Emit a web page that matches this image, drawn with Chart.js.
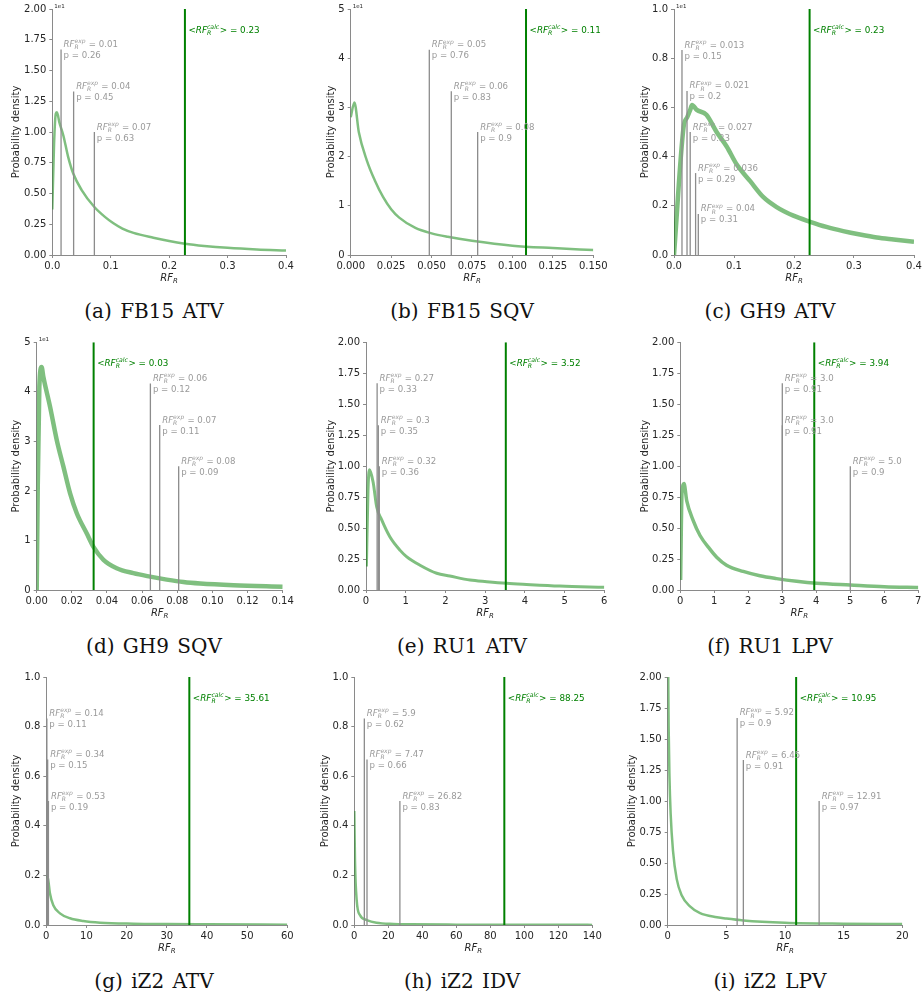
<!DOCTYPE html>
<html>
<head>
<meta charset="utf-8">
<script src="https://cdn.jsdelivr.net/npm/chart.js@4.4.0/dist/chart.umd.min.js"></script>
<style>
  body { margin: 0; background: #fff; width: 924px; height: 1004px; position: relative; overflow: hidden; }
  canvas { position: absolute; }
  .cap { position: absolute; width: 308px; text-align: center; font: 20px "DejaVu Serif"; line-height: 20px; color: #111; word-spacing: 2px; }
</style>
</head>
<body>
<script>
// --- DATA ---
// tick labels
const yTicks2 = ['0.00', '0.25', '0.50', '0.75', '1.00', '1.25', '1.50', '1.75', '2.00'];
const yTicks5 = ['0', '1', '2', '3', '4', '5'];
const yTicks1 = ['0.0', '0.2', '0.4', '0.6', '0.8', '1.0'];
const xTicksA = ['0.0', '0.1', '0.2', '0.3', '0.4'];
const xTicksB = ['0.000', '0.025', '0.050', '0.075', '0.100', '0.125', '0.150'];
const xTicksD = ['0.00', '0.02', '0.04', '0.06', '0.08', '0.10', '0.12', '0.14'];
const xTicksE = ['0', '1', '2', '3', '4', '5', '6'];
const xTicksF = ['0', '1', '2', '3', '4', '5', '6', '7'];
const xTicksG = ['0', '10', '20', '30', '40', '50', '60'];
const xTicksH = ['0', '20', '40', '60', '80', '100', '120', '140'];
const xTicksI = ['0', '5', '10', '15', '20'];

// (a) FB15 ATV
const fb15AtvX = [0, 0.003, 0.006, 0.008, 0.012, 0.019, 0.027, 0.036, 0.05, 0.072, 0.09, 0.104, 0.12, 0.139, 0.173, 0.2, 0.227, 0.26, 0.3, 0.35, 0.4];
const fb15AtvY = [0.37, 0.9, 1.15, 1.16, 1.08, 0.97, 0.8, 0.66, 0.53, 0.39, 0.31, 0.26, 0.215, 0.18, 0.14, 0.113, 0.092, 0.074, 0.058, 0.045, 0.037];
const fb15AtvExp = [0.015, 0.0365, 0.072];
const fb15AtvExpH = [1.67, 1.33, 1.0];
const fb15AtvExpLabel = ['0.01', '0.04', '0.07'];
const fb15AtvP = ['0.26', '0.45', '0.63'];
const fb15AtvCalc = 0.227;

// (b) FB15 SQV
const fb15SqvX = [0, 0.0023, 0.005, 0.01, 0.015, 0.02, 0.025, 0.03, 0.04, 0.05, 0.06, 0.075, 0.1, 0.125, 0.15];
const fb15SqvY = [2.8, 3.1, 2.5, 1.92, 1.51, 1.18, 0.93, 0.76, 0.55, 0.44, 0.37, 0.29, 0.19, 0.14, 0.1];
const fb15SqvExp = [0.0486, 0.0622, 0.0785];
const fb15SqvExpH = [4.17, 3.33, 2.5];
const fb15SqvExpLabel = ['0.05', '0.06', '0.08'];
const fb15SqvP = ['0.76', '0.83', '0.9'];
const fb15SqvCalc = 0.1084;

// (c) GH9 ATV
const gh9AtvX = [0, 0.016, 0.022, 0.027, 0.03, 0.038, 0.054, 0.071, 0.088, 0.104, 0.127, 0.149, 0.171, 0.199, 0.227, 0.254, 0.282, 0.31, 0.338, 0.366, 0.4];
const gh9AtvY = [0, 0.52, 0.56, 0.59, 0.61, 0.59, 0.57, 0.5, 0.44, 0.37, 0.3, 0.235, 0.195, 0.16, 0.135, 0.114, 0.097, 0.083, 0.071, 0.063, 0.054];
const gh9AtvExp = [0.0133, 0.0217, 0.027, 0.036, 0.0405];
const gh9AtvExpH = [0.833, 0.667, 0.5, 0.333, 0.167];
const gh9AtvExpLabel = ['0.013', '0.021', '0.027', '0.036', '0.04'];
const gh9AtvP = ['0.15', '0.2', '0.23', '0.29', '0.31'];
const gh9AtvCalc = 0.226;

// (d) GH9 SQV
const gh9SqvX = [0, 0.0006, 0.0015, 0.0028, 0.0038, 0.0076, 0.0114, 0.0152, 0.019, 0.0228, 0.0285, 0.0323, 0.038, 0.0455, 0.055, 0.0645, 0.074, 0.0835, 0.093, 0.112, 0.14];
const gh9SqvY = [0, 2.1, 4.1, 4.5, 4.3, 3.7, 3.03, 2.49, 1.95, 1.55, 1.14, 0.87, 0.61, 0.44, 0.34, 0.27, 0.21, 0.16, 0.13, 0.095, 0.065];
const gh9SqvExp = [0.0647, 0.07, 0.0808];
const gh9SqvExpH = [4.17, 3.33, 2.5];
const gh9SqvExpLabel = ['0.06', '0.07', '0.08'];
const gh9SqvP = ['0.12', '0.11', '0.09'];
const gh9SqvCalc = 0.0324;

// (e) RU1 ATV
const ru1AtvX = [0.01, 0.05, 0.084, 0.117, 0.18, 0.27, 0.39, 0.6, 0.86, 1.02, 1.36, 1.78, 2.11, 2.62, 3.04, 3.54, 4.04, 4.88, 6];
const ru1AtvY = [0.19, 0.8, 0.97, 0.95, 0.87, 0.67, 0.57, 0.43, 0.32, 0.27, 0.2, 0.135, 0.113, 0.08, 0.067, 0.054, 0.045, 0.032, 0.022];
const ru1AtvExp = [0.28, 0.31, 0.335];
const ru1AtvExpH = [1.67, 1.33, 1.0];
const ru1AtvExpLabel = ['0.27', '0.3', '0.32'];
const ru1AtvP = ['0.33', '0.35', '0.36'];
const ru1AtvCalc = 3.52;

// (f) RU1 LPV
const ru1LpvX = [0.01, 0.05, 0.11, 0.19, 0.38, 0.58, 0.87, 1.07, 1.36, 1.85, 2.34, 2.83, 3.42, 4.01, 5, 6, 7];
const ru1LpvY = [0.08, 0.78, 0.86, 0.72, 0.56, 0.44, 0.33, 0.265, 0.2, 0.15, 0.115, 0.092, 0.07, 0.054, 0.04, 0.027, 0.021];
const ru1LpvExp = [3.0, 3.0, 5.0];
const ru1LpvExpH = [1.67, 1.33, 1.0];
const ru1LpvExpLabel = ['3.0', '3.0', '5.0'];
const ru1LpvP = ['0.91', '0.91', '0.9'];
const ru1LpvCalc = 3.94;

// (g) iZ2 ATV
const iz2AtvX = [0.2, 0.5, 0.9, 1.74, 3.4, 5.9, 9.2, 13.4, 21.7, 30, 40, 60];
const iz2AtvY = [0.2, 0.18, 0.128, 0.08, 0.047, 0.027, 0.016, 0.0094, 0.0054, 0.004, 0.003, 0.0013];
const iz2AtvExp = [0.14, 0.34, 0.53];
const iz2AtvExpH = [0.833, 0.667, 0.5];
const iz2AtvExpLabel = ['0.14', '0.34', '0.53'];
const iz2AtvP = ['0.11', '0.15', '0.19'];
const iz2AtvCalc = 35.61;

// (h) iZ2 IDV
const iz2IdvX = [0, 0.4, 1.4, 3.3, 7.3, 13, 23, 33, 60, 100, 140];
const iz2IdvY = [0.46, 0.26, 0.1, 0.04, 0.02, 0.009, 0.004, 0.0027, 0.0015, 0.0008, 0.0005];
const iz2IdvExp = [5.9, 7.47, 26.82];
const iz2IdvExpH = [0.833, 0.667, 0.5];
const iz2IdvExpLabel = ['5.9', '7.47', '26.82'];
const iz2IdvP = ['0.62', '0.66', '0.83'];
const iz2IdvCalc = 88.25;

// (i) iZ2 LPV
const iz2LpvX = [0.03, 0.08, 0.15, 0.25, 0.45, 0.77, 1.19, 1.9, 2.76, 4.2, 5, 6.45, 10, 15, 20];
const iz2LpvY = [2.2, 1.6, 1.2, 0.9, 0.6, 0.37, 0.24, 0.15, 0.095, 0.063, 0.052, 0.037, 0.019, 0.011, 0.008];
const iz2LpvExp = [5.92, 6.45, 12.91];
const iz2LpvExpH = [1.67, 1.33, 1.0];
const iz2LpvExpLabel = ['5.92', '6.45', '12.91'];
const iz2LpvP = ['0.9', '0.91', '0.97'];
const iz2LpvCalc = 10.95;

// --- STYLE ---
const FONT = '"DejaVu Sans"';
const GREY_LINE = '#8c8c8c';
const GREY_TEXT = '#9a9a9a';
const CALC_GREEN = '#008000';
const CURVE_GREEN = 'rgba(0,128,0,0.5)';
const AXIS_GREY = '#8a8a8a';
const TEXT_DARK = '#262626';

// plot boxes in page pixels (L/R/T/B of the plot area, tx = centre of y title)
const panels = [
  { cap: '(a) FB15 ATV', col: 0, box: { L: 52.3, R: 286, T: 7.3, B: 255, tx: 16 }, cx: fb15AtvX, cy: fb15AtvY, lw: 2.5,
    xt: xTicksA, yt: yTicks2, off: '1e1', exp: fb15AtvExp, expH: fb15AtvExpH, expL: fb15AtvExpLabel, p: fb15AtvP, calc: fb15AtvCalc },
  { cap: '(b) FB15 SQV', col: 1, box: { L: 350.7, R: 593.3, T: 7.3, B: 255, tx: 331 }, cx: fb15SqvX, cy: fb15SqvY, lw: 2.5,
    xt: xTicksB, yt: yTicks5, off: '1e1', exp: fb15SqvExp, expH: fb15SqvExpH, expL: fb15SqvExpLabel, p: fb15SqvP, calc: fb15SqvCalc },
  { cap: '(c) GH9 ATV', col: 2, box: { L: 674, R: 914, T: 7.3, B: 255, tx: 645 }, cx: gh9AtvX, cy: gh9AtvY, lw: 4.5,
    xt: xTicksA, yt: yTicks1, off: '1e1', exp: gh9AtvExp, expH: gh9AtvExpH, expL: gh9AtvExpLabel, p: gh9AtvP, calc: gh9AtvCalc },
  { cap: '(d) GH9 SQV', col: 0, box: { L: 36.7, R: 282.7, T: 342.3, B: 590, tx: 16 }, cx: gh9SqvX, cy: gh9SqvY, lw: 4.5,
    xt: xTicksD, yt: yTicks5, off: '1e1', exp: gh9SqvExp, expH: gh9SqvExpH, expL: gh9SqvExpLabel, p: gh9SqvP, calc: gh9SqvCalc },
  { cap: '(e) RU1 ATV', col: 1, box: { L: 366, R: 604.3, T: 342.3, B: 590, tx: 331 }, cx: ru1AtvX, cy: ru1AtvY, lw: 3,
    xt: xTicksE, yt: yTicks2, off: '', exp: ru1AtvExp, expH: ru1AtvExpH, expL: ru1AtvExpLabel, p: ru1AtvP, calc: ru1AtvCalc },
  { cap: '(f) RU1 LPV', col: 2, box: { L: 680.3, R: 918.3, T: 342.3, B: 590, tx: 645 }, cx: ru1LpvX, cy: ru1LpvY, lw: 3.5,
    xt: xTicksF, yt: yTicks2, off: '', exp: ru1LpvExp, expH: ru1LpvExpH, expL: ru1LpvExpLabel, p: ru1LpvP, calc: ru1LpvCalc },
  { cap: '(g) iZ2 ATV', col: 0, box: { L: 46.3, R: 287.3, T: 676.7, B: 925, tx: 16 }, cx: iz2AtvX, cy: iz2AtvY, lw: 2.5,
    xt: xTicksG, yt: yTicks1, off: '', exp: iz2AtvExp, expH: iz2AtvExpH, expL: iz2AtvExpLabel, p: iz2AtvP, calc: iz2AtvCalc },
  { cap: '(h) iZ2 IDV', col: 1, box: { L: 354.3, R: 592.3, T: 676.7, B: 925, tx: 325 }, cx: iz2IdvX, cy: iz2IdvY, lw: 2.5,
    xt: xTicksH, yt: yTicks1, off: '', exp: iz2IdvExp, expH: iz2IdvExpH, expL: iz2IdvExpLabel, p: iz2IdvP, calc: iz2IdvCalc },
  { cap: '(i) iZ2 LPV', col: 2, box: { L: 667.7, R: 902.3, T: 676.7, B: 925, tx: 632 }, cx: iz2LpvX, cy: iz2LpvY, lw: 2.5,
    xt: xTicksI, yt: yTicks2, off: '', exp: iz2LpvExp, expH: iz2LpvExpH, expL: iz2LpvExpLabel, p: iz2LpvP, calc: iz2LpvCalc },
];

// RF_R with a sub- and superscript, optional <...> brackets
function drawRF(ctx, x, base, sup, tail, size, bracket) {
  let cx = x;
  const small = size * 0.7;
  if (bracket) {
    ctx.font = `${size}px ${FONT}`;
    ctx.fillText('<', cx, base);
    cx += ctx.measureText('<').width;
  }
  ctx.font = `italic ${size}px ${FONT}`;
  ctx.fillText('RF', cx, base);
  cx += ctx.measureText('RF').width;
  ctx.font = `italic ${small}px ${FONT}`;
  const wSub = ctx.measureText('R').width;
  const wSup = sup ? ctx.measureText(sup).width : 0;
  ctx.fillText('R', cx, base + size * 0.25);
  if (sup) ctx.fillText(sup, cx, base - size * 0.42);
  cx += Math.max(wSub, wSup) + 0.5;
  ctx.font = `${size}px ${FONT}`;
  ctx.fillText((bracket ? '>' : '') + tail, cx, base);
}

function makeOverlay(p) {
  return {
    id: 'overlay',
    afterDatasetsDraw(chart) {
      const { ctx, chartArea: ca, scales: { x, y } } = chart;
      const yMax = Number(p.yt[p.yt.length - 1]);
      ctx.save();
      ctx.textAlign = 'left';
      ctx.textBaseline = 'alphabetic';
      // experimental values
      ctx.fillStyle = GREY_TEXT;
      p.exp.forEach((v, i) => {
        const px = x.getPixelForValue(v) + 2.5;
        const top = y.getPixelForValue(p.expH[i]);
        drawRF(ctx, px, top - 2.5, 'exp', ' = ' + p.expL[i], 8.6, false);
        ctx.font = `8.6px ${FONT}`;
        ctx.fillText('p = ' + p.p[i], px, top + 8.5);
      });
      // calculated mean
      ctx.fillStyle = CALC_GREEN;
      drawRF(ctx, x.getPixelForValue(p.calc) + 3.5, y.getPixelForValue(yMax * 0.9) - 1, 'calc',
        ' = ' + p.calc.toFixed(2), 8.8, true);
      // axis title RF_R
      ctx.fillStyle = TEXT_DARK;
      ctx.font = `italic 10px ${FONT}`;
      const wRF = ctx.measureText('RF').width;
      ctx.font = `italic 7px ${FONT}`;
      const wR = ctx.measureText('R').width;
      const sx = (ca.left + ca.right) / 2 - (wRF + wR) / 2;
      ctx.font = `italic 10px ${FONT}`;
      ctx.fillText('RF', sx, ca.bottom + 25.5);
      ctx.font = `italic 7px ${FONT}`;
      ctx.fillText('R', sx + wRF, ca.bottom + 28);
      // offset text
      if (p.off) {
        ctx.font = `5.5px ${FONT}`;
        ctx.fillText(p.off, ca.left + 2, ca.top - 1.5);
      }
      ctx.restore();
    }
  };
}

Chart.defaults.font.family = FONT;
Chart.defaults.font.size = 10;
Chart.defaults.color = TEXT_DARK;

panels.forEach((p) => {
  const b = p.box;
  const left = Math.round(b.tx - 6);
  const top = Math.max(0, Math.round(b.T) - 9);
  const width = Math.round(b.R) + 26 - left;
  const height = Math.round(b.B) + 36 - top;
  const canvas = document.createElement('canvas');
  canvas.width = width;
  canvas.height = height;
  canvas.style.left = left + 'px';
  canvas.style.top = top + 'px';
  document.body.appendChild(canvas);

  const yMax = Number(p.yt[p.yt.length - 1]);
  const xMax = Number(p.xt[p.xt.length - 1]);

  const datasets = [{
    data: p.cx.map((v, i) => ({ x: v, y: p.cy[i] })),
    borderColor: CURVE_GREEN,
    borderWidth: p.lw,
    cubicInterpolationMode: 'monotone',
    order: 3
  }];
  p.exp.forEach((v, i) => {
    datasets.push({
      data: [{ x: v, y: 0 }, { x: v, y: p.expH[i] }],
      borderColor: GREY_LINE,
      borderWidth: 1.3,
      order: 2
    });
  });
  datasets.push({
    data: [{ x: p.calc, y: 0 }, { x: p.calc, y: yMax }],
    borderColor: CALC_GREEN,
    borderWidth: 2,
    order: 1
  });
  datasets.forEach(d => { d.showLine = true; d.pointRadius = 0; d.fill = false; });

  const axisGrid = { display: true, drawOnChartArea: false, drawTicks: true, tickLength: 3, color: AXIS_GREY, tickColor: AXIS_GREY };
  const axisBorder = { display: true, color: AXIS_GREY, width: 1 };

  new Chart(canvas, {
    type: 'scatter',
    data: { datasets },
    options: {
      responsive: false,
      animation: false,
      devicePixelRatio: 1,
      layout: { padding: { left: 0, top: b.T - top, right: left + width - b.R, bottom: 0 } },
      plugins: { legend: { display: false }, tooltip: { enabled: false } },
      scales: {
        x: {
          type: 'linear', min: 0, max: xMax,
          grid: axisGrid, border: axisBorder,
          ticks: { autoSkip: false, maxRotation: 0, padding: 2, color: TEXT_DARK, callback: (v, i) => p.xt[i] },
          afterBuildTicks: (s) => { s.ticks = p.xt.map(t => ({ value: Number(t) })); },
          afterFit: (s) => { s.height = height - (b.B - top); }
        },
        y: {
          type: 'linear', min: 0, max: yMax,
          grid: axisGrid, border: axisBorder,
          ticks: { autoSkip: false, padding: 3, color: TEXT_DARK, callback: (v, i) => p.yt[i] },
          afterBuildTicks: (s) => { s.ticks = p.yt.map(t => ({ value: Number(t) })); },
          afterFit: (s) => { s.width = b.L - left; },
          title: { display: true, text: 'Probability density', color: TEXT_DARK, padding: 0, font: { size: 10 } }
        }
      }
    },
    plugins: [makeOverlay(p)]
  });

  // caption under the sub-figure
  const cap = document.createElement('div');
  cap.className = 'cap';
  cap.textContent = p.cap;
  cap.style.left = (p.col * 308) + 'px';
  cap.style.top = (b.B + 63 - 17) + 'px';
  document.body.appendChild(cap);
});
</script>
</body>
</html>
